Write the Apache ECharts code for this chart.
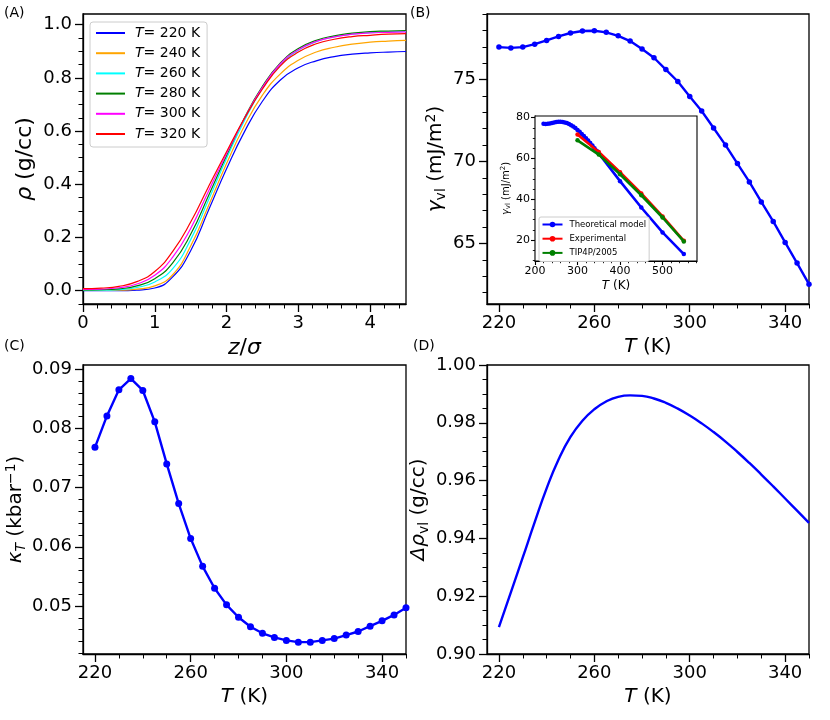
<!DOCTYPE html>
<html>
<head>
<meta charset="utf-8">
<script src="https://cdn.jsdelivr.net/npm/echarts@6/dist/echarts.min.js"></script>
<style>html,body{margin:0;padding:0;background:#fff}#c{width:830px;height:720px}</style>
</head>
<body>
<div id="c"></div>
<script>
// ---------- Panel A: density profiles ----------
const zA = [0,0.25,0.5,0.75,1.0,1.25,1.5,1.75,2.0,2.25,2.5,2.75,3.0,3.25,3.5,3.75,4.0,4.25,4.5];
const rho220 = [0.000,0.000,0.000,0.002,0.010,0.052,0.150,0.303,0.458,0.598,0.712,0.792,0.838,0.864,0.880,0.889,0.894,0.897,0.899];
const rho240 = [0.001,0.001,0.002,0.006,0.018,0.060,0.168,0.320,0.478,0.620,0.735,0.815,0.866,0.897,0.915,0.927,0.934,0.938,0.941];
const rho260 = [0.002,0.002,0.004,0.012,0.033,0.083,0.192,0.342,0.497,0.640,0.760,0.848,0.904,0.936,0.954,0.964,0.970,0.973,0.975];
const rho280 = [0.003,0.004,0.007,0.018,0.045,0.105,0.212,0.358,0.508,0.650,0.768,0.856,0.910,0.941,0.958,0.968,0.974,0.976,0.978];
const rho300 = [0.005,0.006,0.011,0.025,0.058,0.126,0.234,0.375,0.515,0.648,0.764,0.853,0.906,0.937,0.954,0.964,0.969,0.971,0.973];
const rho320 = [0.008,0.010,0.016,0.034,0.072,0.148,0.258,0.392,0.522,0.648,0.758,0.845,0.897,0.928,0.945,0.955,0.960,0.964,0.966];
const namesA = ['T= 220 K','T= 240 K','T= 260 K','T= 280 K','T= 300 K','T= 320 K'];
const colorsA = ['#0000ff','#ffa500','#00ffff','#008000','#ff00ff','#ff0000'];
const ticksAx = [0,1,2,3,4];
const ticksAy = [0.0,0.2,0.4,0.6,0.8,1.0];

// ---------- Panel B: surface tension ----------
const TB = [220,225,230,235,240,245,250,255,260,265,270,275,280,285,290,295,300,305,310,315,320,325,330,335,340,345,350];
const gammaB = [76.98,76.93,76.98,77.16,77.39,77.63,77.84,77.96,77.98,77.88,77.67,77.35,76.86,76.33,75.61,74.88,73.96,73.08,72.04,71.00,69.87,68.75,67.53,66.34,65.06,63.80,62.51];
const ticksBx = [220,260,300,340];
const ticksBy = [65,70,75];

// ---------- Inset ----------
const TinExtra = [400,450,500,550];
const gammaInExtra = [48.9,36.0,23.8,13.2];
const TexpIn = [300,350,400,450,500,550];
const gammaExp = [71.7,63.2,53.3,42.9,31.6,19.7];
const gammaTip = [68.9,61.9,52.3,42.0,31.1,19.4];
const namesIn = ['Theoretical model','Experimental','TIP4P/2005'];
const ticksInx = [200,300,400,500];
const ticksIny = [20,40,60,80];

// ---------- Panel C: compressibility ----------
const kappaC = [0.0768,0.0821,0.0865,0.0884,0.0864,0.0811,0.0740,0.0673,0.0614,0.0567,0.0530,0.0502,0.0481,0.0465,0.0454,0.0447,0.0442,0.0439,0.0439,0.0442,0.0445,0.0451,0.0457,0.0466,0.0475,0.0485,0.0497];
const ticksCy = [0.05,0.06,0.07,0.08,0.09];

// ---------- Panel D: density difference ----------
const drhoD = [0.9093,0.9213,0.9334,0.9456,0.9573,0.9673,0.9751,0.9807,0.9847,0.9874,0.9890,0.9895,0.9893,0.9884,0.9869,0.9849,0.9825,0.9798,0.9768,0.9735,0.9699,0.9661,0.9621,0.9580,0.9538,0.9496,0.9454];
const ticksDy = [0.90,0.92,0.94,0.96,0.98,1.00];

function minorsOf(majors, step, min, max) {
  const out = [];
  const start = Math.ceil(min / step - 1e-9);
  for (let k = start; k * step <= max + 1e-9; k++) {
    const v = +(k * step).toFixed(6);
    if (!majors.some(m => Math.abs(m - v) < step / 10)) out.push(v);
  }
  return out;
}

const FF = 'DejaVu Sans';
const richBase = (fs) => ({
  i: {fontStyle: 'italic', fontSize: fs, fontFamily: FF, color: '#000', lineHeight: Math.round(fs * 1.2)},
  n: {fontSize: fs, fontFamily: FF, color: '#000', lineHeight: Math.round(fs * 1.2)},
  sub: {fontSize: Math.round(fs * 0.68), fontFamily: FF, color: '#000', verticalAlign: 'bottom', lineHeight: Math.round(fs * 0.68)},
  subi: {fontStyle: 'italic', fontSize: Math.round(fs * 0.68), fontFamily: FF, color: '#000', verticalAlign: 'bottom', lineHeight: Math.round(fs * 0.68)},
  sup: {fontSize: Math.round(fs * 0.68), fontFamily: FF, color: '#000', verticalAlign: 'top', lineHeight: Math.round(fs * 0.68)}
});

const xAxes = [], yAxes = [];
function addAxis(list, dim, grid, o) {
  const lw = o.lw || 1.3;
  const main = {
    type: 'value', gridIndex: grid, min: o.min, max: o.max,
    position: dim === 'x' ? 'bottom' : 'left',
    axisLine: {show: true, onZero: false, lineStyle: {color: '#000', width: lw}},
    axisTick: {show: true, inside: false, customValues: o.major, length: o.tl, lineStyle: {color: '#000', width: lw}},
    axisLabel: {show: true, customValues: o.major, formatter: o.fmt, fontSize: o.fs, fontFamily: FF, color: '#000', margin: o.margin},
    splitLine: {show: false},
    name: o.name, nameLocation: 'middle', nameGap: o.nameGap,
    nameTextStyle: {fontSize: o.nfs, fontFamily: FF, color: '#000', rich: richBase(o.nfs)}
  };
  const minor = {
    type: 'value', gridIndex: grid, min: o.min, max: o.max,
    position: dim === 'x' ? 'bottom' : 'left', offset: 0,
    axisLine: {show: false, onZero: false},
    axisTick: {show: true, inside: false, customValues: o.minor, length: o.tl2, lineStyle: {color: '#000', width: lw * 0.8}},
    axisLabel: {show: false},
    splitLine: {show: false}
  };
  const idx = list.length;
  list.push(main, minor);
  return idx;
}

const f1 = v => v.toFixed(1), f2 = v => v.toFixed(2), f0 = v => String(Math.round(v));

const axA = addAxis(xAxes, 'x', 0, {min: 0, max: 4.5, major: ticksAx, minor: minorsOf(ticksAx, 0.2, 0, 4.5), tl: 8, tl2: 4.5, fmt: f0, fs: 18, margin: 10, name: '{i|z}{n|/}{i|σ}', nameGap: 31, nfs: 22});
const ayA = addAxis(yAxes, 'y', 0, {min: -0.05, max: 1.04, major: ticksAy, minor: minorsOf(ticksAy, 0.05, -0.05, 1.04), tl: 8, tl2: 4.5, fmt: f1, fs: 18, margin: 11, name: '{i|ρ}{n| (g/cc)}', nameGap: 45, nfs: 22});
const axB = addAxis(xAxes, 'x', 1, {min: 215, max: 350, major: ticksBx, minor: minorsOf(ticksBx, 10, 215, 350), tl: 8, tl2: 4.5, fmt: f0, fs: 18, margin: 10, name: '{i|T}{n| (K)}', nameGap: 31, nfs: 20});
const ayB = addAxis(yAxes, 'y', 1, {min: 61.3, max: 79.0, major: ticksBy, minor: minorsOf(ticksBy, 1, 61.3, 79.0), tl: 8, tl2: 4.5, fmt: f0, fs: 18, margin: 11, name: '{i|γ}{sub|vl}{n| (mJ/m}{sup|2}{n|)}', nameGap: 39, nfs: 20});
const axC = addAxis(xAxes, 'x', 2, {min: 215, max: 350, major: ticksBx, minor: minorsOf(ticksBx, 10, 215, 350), tl: 8, tl2: 4.5, fmt: f0, fs: 18, margin: 10, name: '{i|T}{n| (K)}', nameGap: 31, nfs: 20});
const ayC = addAxis(yAxes, 'y', 2, {min: 0.0419, max: 0.0907, major: ticksCy, minor: minorsOf(ticksCy, 0.002, 0.0419, 0.0907), tl: 8, tl2: 4.5, fmt: f2, fs: 18, margin: 11, name: '{i|κ}{subi|T}{n| (kbar}{sup|−1}{n|)}', nameGap: 55, nfs: 20});
const axD = addAxis(xAxes, 'x', 3, {min: 215, max: 350, major: ticksBx, minor: minorsOf(ticksBx, 10, 215, 350), tl: 8, tl2: 4.5, fmt: f0, fs: 18, margin: 10, name: '{i|T}{n| (K)}', nameGap: 31, nfs: 20});
const ayD = addAxis(yAxes, 'y', 3, {min: 0.90, max: 1.00, major: ticksDy, minor: minorsOf(ticksDy, 0.005, 0.90, 1.00), tl: 8, tl2: 4.5, fmt: f2, fs: 18, margin: 11, name: '{i|Δρ}{sub|vl}{n| (g/cc)}', nameGap: 56, nfs: 20});
const axI = addAxis(xAxes, 'x', 4, {min: 200, max: 581, major: ticksInx, minor: minorsOf(ticksInx, 20, 200, 581), tl: 4, tl2: 2.2, fmt: f0, fs: 11, margin: 5, name: '{i|T}{n| (K)}', nameGap: 18, nfs: 12, lw: 1.1});
const ayI = addAxis(yAxes, 'y', 4, {min: 9.8, max: 80.8, major: ticksIny, minor: minorsOf(ticksIny, 5, 9.8, 80.8), tl: 4, tl2: 2.2, fmt: f0, fs: 11, margin: 5, name: '{i|γ}{sub|vl}{n| (mJ/m}{sup|2}{n|)}', nameGap: 21, nfs: 10, lw: 1.1});

const pairs = (xs, ys) => xs.map((x, i) => [x, ys[i]]);
const series = [];
[rho220, rho240, rho260, rho280, rho300, rho320].forEach((arr, k) => {
  series.push({type: 'line', name: namesA[k], xAxisIndex: axA, yAxisIndex: ayA, data: pairs(zA, arr),
    smooth: 0.5, symbol: 'none', color: colorsA[k], lineStyle: {width: 1.2, color: colorsA[k]}, z: 3});
});
series.push({type: 'line', name: 'B', xAxisIndex: axB, yAxisIndex: ayB, data: pairs(TB, gammaB), symbol: 'circle', symbolSize: 5.5,
  color: '#0000ff', lineStyle: {width: 2.4, color: '#0000ff'}, itemStyle: {color: '#0000ff'}, z: 3});
series.push({type: 'line', name: 'C', xAxisIndex: axC, yAxisIndex: ayC, data: pairs(TB, kappaC), symbol: 'circle', symbolSize: 7,
  color: '#0000ff', lineStyle: {width: 2.4, color: '#0000ff'}, itemStyle: {color: '#0000ff'}, z: 3});
series.push({type: 'line', name: 'D', xAxisIndex: axD, yAxisIndex: ayD, data: pairs(TB, drhoD), symbol: 'none', smooth: 0.5,
  color: '#0000ff', lineStyle: {width: 2.4, color: '#0000ff'}, z: 3});
const inColors = ['#0000ff', '#ff0000', '#008000'];
series.push({type: 'line', name: namesIn[0], xAxisIndex: axI, yAxisIndex: ayI, data: pairs(TB.concat(TinExtra), gammaB.concat(gammaInExtra)),
  symbol: 'circle', symbolSize: 4.5, color: inColors[0], lineStyle: {width: 2.6, color: inColors[0]}, itemStyle: {color: inColors[0]}, z: 5});
series.push({type: 'line', name: namesIn[1], xAxisIndex: axI, yAxisIndex: ayI, data: pairs(TexpIn, gammaExp),
  symbol: 'circle', symbolSize: 4.5, color: inColors[1], lineStyle: {width: 2.6, color: inColors[1]}, itemStyle: {color: inColors[1]}, z: 6});
series.push({type: 'line', name: namesIn[2], xAxisIndex: axI, yAxisIndex: ayI, data: pairs(TexpIn, gammaTip),
  symbol: 'circle', symbolSize: 4.5, color: inColors[2], lineStyle: {width: 2.6, color: inColors[2]}, itemStyle: {color: inColors[2]}, z: 7});

const option = {
  animation: false,
  backgroundColor: '#fff',
  textStyle: {fontFamily: FF},
  grid: [
    {left: 83, top: 14, width: 323, height: 290, show: true, borderColor: '#000', borderWidth: 1.3, backgroundColor: 'transparent'},
    {left: 487, top: 14, width: 322, height: 290, show: true, borderColor: '#000', borderWidth: 1.3, backgroundColor: 'transparent'},
    {left: 83, top: 365, width: 323, height: 289, show: true, borderColor: '#000', borderWidth: 1.3, backgroundColor: 'transparent'},
    {left: 487, top: 365, width: 322, height: 289, show: true, borderColor: '#000', borderWidth: 1.3, backgroundColor: 'transparent'},
    {left: 535, top: 116, width: 162, height: 145, show: true, borderColor: '#000', borderWidth: 1.1, backgroundColor: '#fff', z: 4}
  ],
  xAxis: xAxes,
  yAxis: yAxes,
  legend: [
    {data: namesA, orient: 'vertical', left: 90, top: 22, itemWidth: 29, itemHeight: 14, itemGap: 6.2,
     padding: [4, 7, 6, 5], borderColor: '#cccccc', borderWidth: 1, borderRadius: 3, backgroundColor: '#fff',
     itemStyle: {opacity: 0},
     formatter: n => '{i|T}{n|' + n.slice(1) + '}',
     textStyle: {fontSize: 14, fontFamily: FF, color: '#000', padding: [0, 0, 0, 5],
       rich: {i: {fontStyle: 'italic', fontSize: 14, fontFamily: FF, color: '#000'}, n: {fontSize: 14, fontFamily: FF, color: '#000'}}},
     selectedMode: false},
    {data: namesIn, orient: 'vertical', left: 539, top: 217, itemWidth: 20, itemHeight: 7, itemGap: 5.2,
     padding: [3, 3, 4, 2.5], borderColor: '#cccccc', borderWidth: 1, borderRadius: 2, backgroundColor: '#fff',
     textStyle: {fontSize: 8.5, fontFamily: FF, color: '#000', padding: [0, 0, 0, 2]}, selectedMode: false, z: 8}
  ],
  graphic: [
    {type: 'text', left: 4, top: 6, style: {text: '(A)', fontSize: 14, fontFamily: FF, fill: '#000'}},
    {type: 'text', left: 410, top: 6, style: {text: '(B)', fontSize: 14, fontFamily: FF, fill: '#000'}},
    {type: 'text', left: 4, top: 339, style: {text: '(C)', fontSize: 14, fontFamily: FF, fill: '#000'}},
    {type: 'text', left: 413, top: 339, style: {text: '(D)', fontSize: 14, fontFamily: FF, fill: '#000'}}
  ],
  series: series
};
const chart = echarts.init(document.getElementById('c'), null, {renderer: 'canvas'});
chart.setOption(option);
</script>
</body>
</html>
